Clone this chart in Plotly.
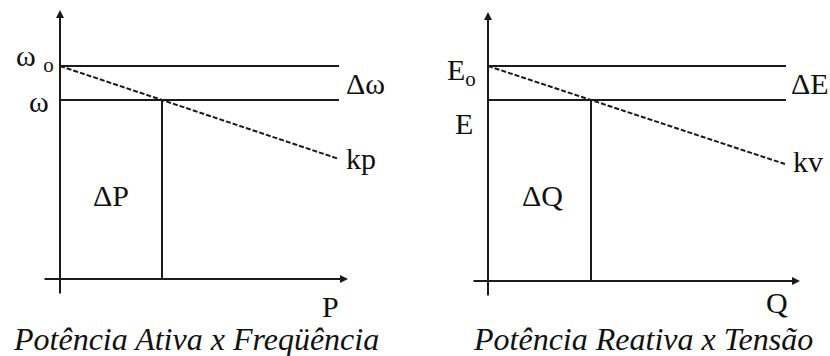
import plotly.graph_objects as go

# ---- data (diagram values, arbitrary units) ----
panel_titles = ["Potência Ativa x Freqüência", "Potência Reativa x Tensão"]
power_axis_labels = ["P", "Q"]
nominal_labels = ["ω <sub>o</sub>", "E<sub>o</sub>"]
operating_labels = ["ω", "E"]
delta_level_labels = ["Δω", "ΔE"]
droop_labels = ["kp", "kv"]
delta_power_labels = ["ΔP", "ΔQ"]

nominal_values = [213, 215]      # ω0 , E0
operating_values = [179, 181]    # ω , E
operating_power = [102, 103]     # P , Q at operating point
level_line_end = [279, 298]      # extent of horizontal reference lines
droop_line_end = [277, 297]      # extent of droop line
axis_x_max = [288, 312]
axis_x_min = [-17, -16]
axis_y_max = [269, 269]
axis_y_min = [-16, -16]

LINE = "#1a1a1a"
FONT = "Liberation Serif"

fig = go.Figure()
axes = [("x", "y"), ("x2", "y2")]
annotations = []

for i, (xa, ya) in enumerate(axes):
    n0 = nominal_values[i]
    n1 = operating_values[i]
    p1 = operating_power[i]
    slope = (n0 - n1) / p1
    xe = droop_line_end[i]
    for lvl in (n0, n1):
        fig.add_trace(go.Scatter(x=[0, level_line_end[i]], y=[lvl, lvl], mode="lines",
                                 line=dict(color=LINE, width=2), xaxis=xa, yaxis=ya,
                                 hoverinfo="skip", showlegend=False))
    fig.add_trace(go.Scatter(x=[p1, p1], y=[0, n1], mode="lines",
                             line=dict(color=LINE, width=2), xaxis=xa, yaxis=ya,
                             hoverinfo="skip", showlegend=False))
    fig.add_trace(go.Scatter(x=[0, xe], y=[n0, n0 - slope * xe], mode="lines",
                             line=dict(color=LINE, width=2, dash="5px,2px"), xaxis=xa, yaxis=ya,
                             hoverinfo="skip", showlegend=False))
    annotations.append(dict(x=axis_x_max[i], y=0, ax=axis_x_min[i], ay=0, xref=xa, yref=ya,
                            axref=xa, ayref=ya, text="", showarrow=True, arrowhead=2,
                            arrowsize=0.8, arrowwidth=2, arrowcolor=LINE))
    annotations.append(dict(x=0, y=axis_y_max[i], ax=0, ay=axis_y_min[i], xref=xa, yref=ya,
                            axref=xa, ayref=ya, text="", showarrow=True, arrowhead=2,
                            arrowsize=0.8, arrowwidth=2, arrowcolor=LINE))

def txt(text, x, y, xref, yref, xanchor="center", size=30, italic=False):
    annotations.append(dict(text=("<i>%s</i>" % text) if italic else text, x=x, y=y,
                            xref=xref, yref=yref, xanchor=xanchor, yanchor="middle",
                            showarrow=False, font=dict(family=FONT, size=size, color="#111111")))

# left panel labels (positions relative to origin)
txt(nominal_labels[0], -4, 221, "x", "y", "right")
txt(operating_labels[0], -9, 178, "x", "y", "right")
txt(delta_level_labels[0], 284, 196, "x", "y", "left")
txt(droop_labels[0], 284, 121, "x", "y", "left")
txt(delta_power_labels[0], 51, 84, "x", "y")
txt(power_axis_labels[0], 270, -27, "x", "y")
txt(panel_titles[0], 136, -60, "x", "y", size=32, italic=True)

# right panel labels
txt(nominal_labels[1], -10, 209, "x2", "y2", "right")
txt(operating_labels[1], -24, 158, "x2", "y2")
txt(delta_level_labels[1], 301, 198, "x2", "y2", "left")
txt(droop_labels[1], 303, 120, "x2", "y2", "left")
txt(delta_power_labels[1], 54, 86, "x2", "y2")
txt(power_axis_labels[1], 289, -21, "x2", "y2")
txt(panel_titles[1], 155, -58, "x2", "y2", size=32, italic=True)

hidden = dict(visible=False, showgrid=False, zeroline=False, fixedrange=True)
fig.update_layout(
    width=830, height=356,
    margin=dict(l=0, r=0, t=0, b=0),
    paper_bgcolor="white", plot_bgcolor="white",
    xaxis=dict(domain=[0, 0.5], range=[-60, 355], **hidden),
    yaxis=dict(domain=[0, 1], range=[-77, 279], **hidden),
    xaxis2=dict(domain=[0.5, 1], range=[-73, 342], anchor="y2", **hidden),
    yaxis2=dict(domain=[0, 1], range=[-75, 281], anchor="x2", **hidden),
    annotations=annotations,
    showlegend=False,
)

fig.write_html("out.html", config={"displayModeBar": False},
               post_script="document.body.style.margin='0';")
